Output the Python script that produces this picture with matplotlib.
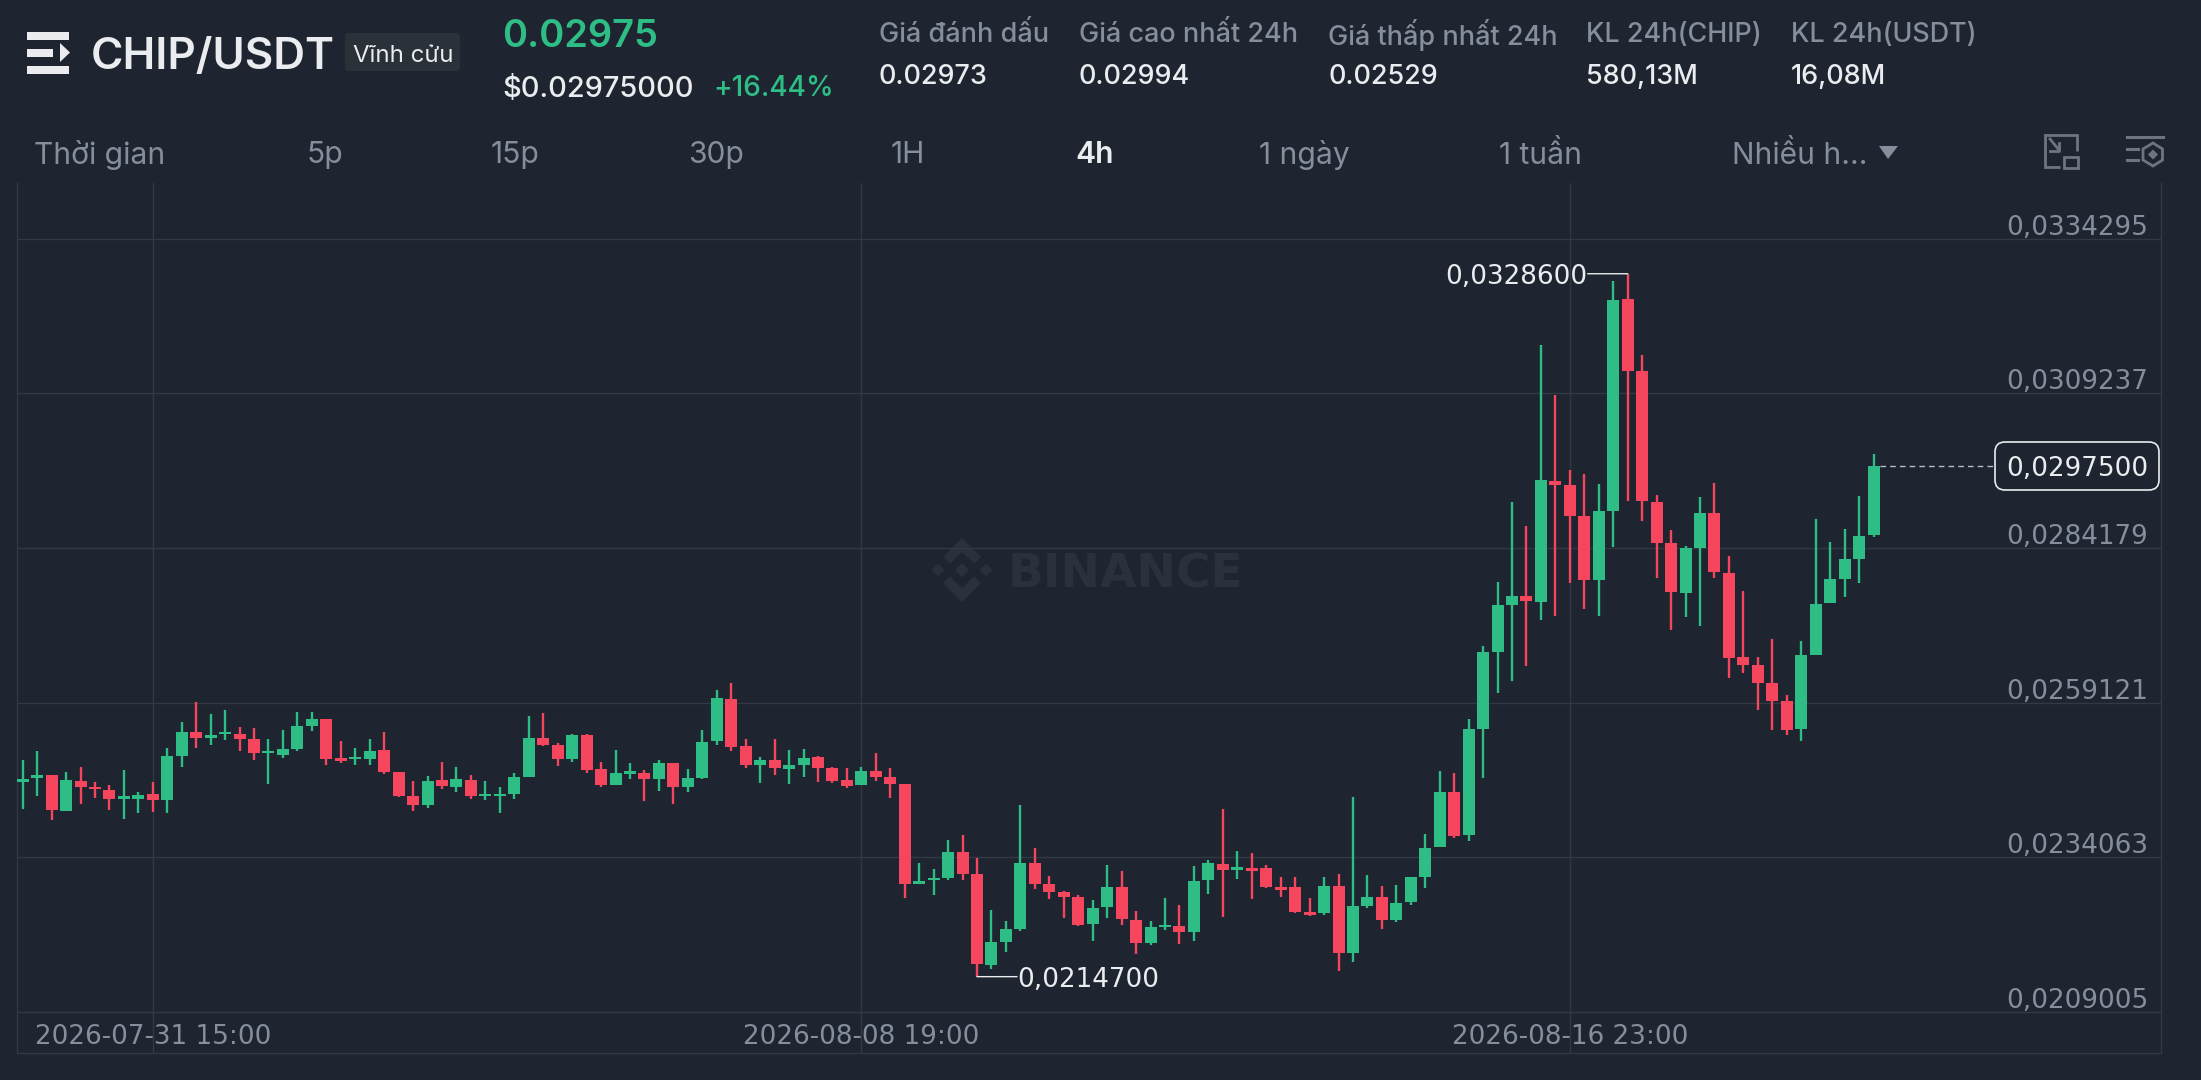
import matplotlib
matplotlib.use("Agg")
import matplotlib.pyplot as plt
import numpy as np
from matplotlib.patches import FancyBboxPatch, Polygon, Rectangle
from matplotlib.transforms import Affine2D

# ---- data: 4h candles, price in units of 1e-5 USDT
PRICE_UNIT = 1e-5
opens = [
    2462.7, 2469.2, 2473.5, 2416.3, 2464.9, 2454.1, 2449.8, 2435.8, 2435.8, 2443.9,
    2434.1, 2504.9, 2543.7, 2534.0, 2540.5, 2540.5, 2532.9, 2509.2, 2507.0, 2516.7,
    2554.0, 2564.8, 2501.1, 2499.5, 2500.0, 2514.0, 2478.4, 2440.1, 2426.0, 2466.0,
    2454.6, 2465.4, 2439.5, 2440.1, 2443.3, 2470.8, 2534.6, 2522.1, 2500.5, 2538.3,
    2483.8, 2458.4, 2475.7, 2476.8, 2467.6, 2494.1, 2454.1, 2469.8, 2528.6, 2597.7,
    2520.5, 2490.3, 2498.9, 2483.3, 2489.7, 2502.7, 2486.0, 2465.4, 2457.9, 2480.0,
    2470.3, 2460.0, 2298.1, 2303.5, 2307.8, 2349.4, 2313.7, 2166.3, 2203.0, 2224.1,
    2332.1, 2297.0, 2285.1, 2276.5, 2232.7, 2260.3, 2293.2, 2239.8, 2202.0, 2227.3,
    2229.0, 2219.2, 2304.0, 2330.5, 2320.7, 2322.9, 2322.9, 2292.1, 2292.1, 2251.6,
    2250.0, 2294.8, 2185.2, 2261.9, 2277.0, 2239.8, 2267.8, 2308.9, 2356.9, 2446.0,
    2377.4, 2549.1, 2673.9, 2748.9, 2763.5, 2754.9, 2950.9, 2943.3, 2894.2, 2790.0,
    2902.3, 3245.1, 3129.0, 2915.8, 2849.3, 2768.9, 2841.2, 2898.5, 2801.8, 2664.7,
    2652.3, 2623.1, 2593.4, 2548.1, 2669.0, 2752.2, 2791.0, 2824.0, 2862.3,
]
closes = [
    2468.1, 2474.6, 2417.4, 2466.0, 2454.1, 2450.9, 2435.8, 2440.1, 2442.2, 2434.1,
    2505.4, 2543.7, 2534.0, 2539.4, 2544.3, 2531.9, 2509.2, 2513.0, 2515.7, 2554.0,
    2565.3, 2500.0, 2496.2, 2503.2, 2513.0, 2478.9, 2439.5, 2426.0, 2464.9, 2455.7,
    2467.1, 2440.1, 2443.9, 2443.3, 2470.8, 2534.6, 2522.7, 2500.0, 2538.3, 2482.7,
    2458.4, 2476.8, 2480.6, 2468.1, 2493.5, 2454.6, 2468.7, 2527.0, 2598.8, 2519.4,
    2490.3, 2498.4, 2486.0, 2489.7, 2501.1, 2486.0, 2463.8, 2456.8, 2480.0, 2470.8,
    2459.5, 2298.1, 2301.8, 2307.2, 2349.4, 2313.2, 2167.4, 2203.0, 2224.6, 2331.0,
    2298.1, 2284.0, 2275.9, 2231.1, 2258.7, 2292.1, 2240.8, 2202.0, 2227.9, 2231.1,
    2219.2, 2302.9, 2331.0, 2320.2, 2324.5, 2319.1, 2292.7, 2288.3, 2252.2, 2247.3,
    2294.8, 2185.2, 2261.9, 2275.9, 2239.8, 2266.8, 2308.9, 2355.8, 2446.0, 2375.3,
    2548.1, 2672.8, 2748.9, 2764.6, 2755.9, 2951.4, 2944.4, 2894.2, 2790.0, 2901.7,
    3243.5, 3129.0, 2918.5, 2849.3, 2770.0, 2841.8, 2899.0, 2802.9, 2664.1, 2652.3,
    2622.6, 2594.5, 2547.5, 2667.9, 2751.1, 2791.0, 2823.4, 2861.2, 2975.0,
]
highs = [
    2498.4, 2512.4, 2473.5, 2478.9, 2486.5, 2462.2, 2458.4, 2482.2, 2446.6, 2462.7,
    2518.4, 2560.5, 2592.3, 2572.4, 2578.8, 2551.3, 2550.2, 2531.9, 2546.4, 2575.6,
    2575.6, 2564.8, 2529.2, 2517.3, 2532.9, 2543.7, 2479.5, 2463.8, 2471.9, 2494.6,
    2486.5, 2474.6, 2464.9, 2454.6, 2476.8, 2569.1, 2575.1, 2526.5, 2540.5, 2540.0,
    2494.6, 2514.0, 2493.0, 2482.2, 2497.8, 2494.1, 2483.8, 2546.4, 2611.8, 2623.1,
    2532.9, 2503.8, 2532.9, 2514.0, 2515.7, 2504.9, 2486.5, 2485.4, 2486.5, 2509.7,
    2484.9, 2460.0, 2331.0, 2321.8, 2368.8, 2376.4, 2339.6, 2255.4, 2237.6, 2426.0,
    2355.3, 2310.5, 2285.6, 2279.7, 2271.6, 2327.8, 2318.0, 2253.8, 2238.1, 2274.3,
    2264.1, 2326.7, 2336.4, 2418.5, 2350.4, 2347.2, 2328.8, 2308.3, 2308.3, 2274.9,
    2308.9, 2314.3, 2437.9, 2311.6, 2294.3, 2295.9, 2309.4, 2378.0, 2480.6, 2477.9,
    2564.3, 2683.6, 2786.7, 2915.8, 2877.4, 3170.1, 3089.1, 2967.6, 2961.1, 2945.5,
    3274.8, 3286.0, 3153.9, 2927.1, 2870.4, 2845.6, 2923.9, 2947.6, 2828.8, 2771.6,
    2665.8, 2693.8, 2603.7, 2691.7, 2888.2, 2851.5, 2872.0, 2926.0, 2993.5,
]
lows = [
    2418.5, 2440.1, 2401.2, 2416.3, 2427.1, 2436.8, 2417.4, 2402.8, 2413.1, 2414.2,
    2413.1, 2486.5, 2517.8, 2522.1, 2531.3, 2513.5, 2498.4, 2459.5, 2501.1, 2513.5,
    2545.9, 2489.7, 2494.1, 2489.7, 2490.3, 2476.2, 2437.9, 2416.3, 2421.2, 2450.9,
    2446.0, 2434.7, 2433.1, 2412.0, 2435.8, 2470.8, 2521.1, 2488.7, 2495.7, 2476.8,
    2454.6, 2458.4, 2468.1, 2432.5, 2447.6, 2427.1, 2447.1, 2467.1, 2523.2, 2513.0,
    2486.0, 2460.6, 2474.1, 2459.5, 2470.3, 2462.7, 2461.7, 2453.0, 2457.9, 2463.8,
    2437.4, 2274.9, 2297.5, 2280.3, 2304.0, 2304.0, 2147.4, 2159.8, 2187.9, 2221.9,
    2288.9, 2273.2, 2241.9, 2229.0, 2205.7, 2241.9, 2230.6, 2184.1, 2198.2, 2223.6,
    2200.3, 2205.2, 2281.3, 2244.1, 2305.1, 2273.2, 2291.6, 2275.9, 2250.0, 2245.2,
    2247.3, 2157.1, 2170.6, 2258.1, 2225.2, 2236.0, 2263.0, 2291.6, 2356.9, 2372.0,
    2367.7, 2468.7, 2607.5, 2625.8, 2651.2, 2725.2, 2732.2, 2785.1, 2743.5, 2731.1,
    2843.9, 2917.9, 2885.0, 2793.7, 2709.0, 2729.5, 2716.0, 2793.2, 2631.2, 2638.8,
    2579.4, 2547.0, 2538.3, 2528.6, 2669.0, 2752.2, 2761.9, 2785.6, 2859.1,
]
price_ticks = [0.0334295, 0.0309237, 0.0284179, 0.0259121, 0.0234063, 0.0209005]
price_labels = ["0,0334295", "0,0309237", "0,0284179", "0,0259121", "0,0234063", "0,0209005"]
date_ticks = [9, 58, 107]
date_labels = ["2026-07-31 15:00", "2026-08-08 19:00", "2026-08-16 23:00"]
high_label, low_label, last_label = "0,0328600", "0,0214700", "0,0297500"

stat_names = ["Giá đánh dấu", "Giá cao nhất 24h", "Giá thấp nhất 24h", "KL 24h(CHIP)", "KL 24h(USDT)"]
stat_values = ["0.02973", "0.02994", "0.02529", "580,13M", "16,08M"]
tabs = ["Thời gian", "5p", "15p", "30p", "1H", "4h", "1 ngày", "1 tuần", "Nhiều h..."]

# ---- colours
BG = "#1E2530"
GRID = "#323944"
GREEN = "#2EBD85"
RED = "#F6465D"
WHITE = "#EAECEF"
GREY = "#848E9C"
LABEL_PX = 26.2  # chart labels, DejaVu is closest to the wide original face

plt.rcParams["font.family"] = ["Inter", "DejaVu Sans"]
W, H = 2201, 1080
fig = plt.figure(figsize=(W / 100, H / 100), dpi=100, facecolor=BG)

# pixel-space layer below the chart, header and chrome go here
hdr = fig.add_axes([0, 0, 1, 1], zorder=0)
hdr.set_xlim(0, W)
hdr.set_ylim(H, 0)
hdr.axis("off")


def px_text(x, y, s, size, color=WHITE, weight="normal", ha="left", **kw):
    # size is given in pixels
    hdr.text(x, y, s, fontsize=size * 0.72, color=color, fontweight=weight, ha=ha, va="center_baseline", **kw)


# menu icon
hdr.add_patch(Rectangle((27, 32), 42, 7.5, color=WHITE, lw=0))
hdr.add_patch(Rectangle((27, 49), 26, 7.5, color=WHITE, lw=0))
hdr.add_patch(Rectangle((27, 66), 42, 7.5, color=WHITE, lw=0))
hdr.add_patch(Polygon([(60, 43), (70, 52.5), (60, 62)], color=WHITE, lw=0))
px_text(91, 53, "CHIP/USDT", 44, weight="semibold")
hdr.add_patch(FancyBboxPatch((349, 37), 107, 30, boxstyle="round,pad=4,rounding_size=4", fc="#2B3139", ec="none"))
px_text(353, 53, "Vĩnh cửu", 24)
px_text(502, 33, "0.02975", 38, color=GREEN, weight="semibold")
px_text(502, 86, "$0.02975000", 29, weight="medium")
px_text(713, 86, "+16.44%", 28, color=GREEN, weight="medium")

stat_x = [879, 1079, 1328, 1586, 1791]
for x, name, val in zip(stat_x, stat_names, stat_values):
    px_text(x, 32, name, 27, color=GREY, weight="medium")
    px_text(x, 74, val, 27, weight="medium")

tab_x = [34, 307, 491, 688, 891, 1075, 1259, 1499, 1732]
for x, t in zip(tab_x, tabs):
    if t == "4h":
        px_text(x, 152, t, 30, weight="semibold")
    else:
        px_text(x, 152, t, 30, color=GREY)
hdr.add_patch(Polygon([(1879, 146), (1898, 146), (1888, 159)], color=GREY, lw=0))

# toolbar icons
ICON = "#6E7582"
hdr.add_patch(Polygon([(2060, 167), (2045, 167), (2045, 135), (2077, 135), (2077, 151)], closed=False, fill=False, ec=ICON, lw=2))
hdr.add_patch(Rectangle((2064, 157), 13.5, 10.5, fill=False, ec=ICON, lw=2))
hdr.plot([2050, 2059], [139, 150], color=ICON, lw=2)
hdr.plot([2059, 2059, 2050], [143, 151, 151], color=ICON, lw=2)
hdr.plot([2127, 2163], [136.5, 136.5], color=ICON, lw=2.2)
hdr.plot([2127, 2138], [148.5, 148.5], color=ICON, lw=2.2)
hdr.plot([2127, 2138], [160, 160], color=ICON, lw=2.2)
hdr.add_patch(Polygon([(2153, 143), (2162.5, 149), (2162.5, 160), (2153, 166), (2143, 160), (2143, 149)], fill=False, ec=ICON, lw=2))
hdr.add_patch(Polygon([(2153, 149.5), (2158, 154.5), (2153, 159.5), (2148, 154.5)], color=ICON, lw=0))

# watermark
MARK = "#2A313C"
cx, cy = 962, 570
hdr.add_patch(Polygon([(cx, cy - 7), (cx + 7, cy), (cx, cy + 7), (cx - 7, cy)], color=MARK, lw=0))
for sx in [-1, 1]:
    ox = cx + sx * 24
    hdr.add_patch(Polygon([(ox, cy - 6.5), (ox + 6.5, cy), (ox, cy + 6.5), (ox - 6.5, cy)], color=MARK, lw=0))
for sy in [-1, 1]:
    pts = [(cx - 19, cy + sy * 13), (cx, cy + sy * 32), (cx + 19, cy + sy * 13), (cx + 12, cy + sy * 6.5), (cx, cy + sy * 18), (cx - 12, cy + sy * 6.5)]
    hdr.add_patch(Polygon(pts, color=MARK, lw=0))
px_text(1008, 570, "BINANCE", 47, color=MARK, weight="bold", family="DejaVu Sans")

# last price box
hdr.add_patch(FancyBboxPatch((2003, 450), 148, 32, boxstyle="round,pad=8,rounding_size=10", fc=BG, ec=WHITE, lw=1.2))

# ---- chart
AX_L, AX_R, AX_T, AX_B = 17.3, 2161.0, 183.0, 1052.6
ax = fig.add_axes([AX_L / W, 1 - AX_B / H, (AX_R - AX_L) / W, (AX_B - AX_T) / H], zorder=1)
ax.patch.set_alpha(0)
ax.set_xlim(-0.371, 147.88)
ax.set_ylim(0.020244, 0.034330)

o = np.array(opens) * PRICE_UNIT
c = np.array(closes) * PRICE_UNIT
hi = np.array(highs) * PRICE_UNIT
lo = np.array(lows) * PRICE_UNIT
idx = np.arange(len(o))
colors = np.where(c >= o, GREEN, RED)

ax.vlines(idx, lo, hi, colors=colors, linewidth=1.7, capstyle="butt", zorder=3)
ax.bar(idx, np.abs(c - o), bottom=np.minimum(o, c), width=0.83, color=colors, linewidth=0, zorder=4)

# ---- axes cosmetics
ax.grid(True, color=GRID, linewidth=1.0)
ax.set_axisbelow(True)
for side in ["left", "right", "bottom"]:
    ax.spines[side].set_color(GRID)
    ax.spines[side].set_linewidth(1.0)
ax.spines["top"].set_visible(False)

ax.set_yticks(price_ticks, price_labels)
ax.set_xticks(date_ticks, date_labels)
ax.yaxis.tick_right()
ax.tick_params(axis="both", length=0, pad=0, labelsize=LABEL_PX * 0.72, labelcolor=GREY)
for lab in ax.get_yticklabels() + ax.get_xticklabels():
    lab.set_family("DejaVu Sans")
for lab in ax.get_yticklabels():
    lab.set_ha("right")
    lab.set_va("center_baseline")
    lab.set_transform(lab.get_transform() + Affine2D().translate(-13, 14))
for lab in ax.get_xticklabels():
    lab.set_va("center_baseline")
    lab.set_transform(lab.get_transform() + Affine2D().translate(0, 19))

# ---- high / low / last price markers
i_hi, i_lo = int(np.argmax(hi)), int(np.argmin(lo))
text_kw = dict(va="center_baseline", fontsize=LABEL_PX * 0.72, color=WHITE, zorder=5, family="DejaVu Sans")
line_kw = dict(arrowprops=dict(arrowstyle="-", color=WHITE, lw=1, shrinkA=0, shrinkB=0), zorder=5)
for i, price, label, off, align in [(i_hi, hi[i_hi], high_label, -40, "right"), (i_lo, lo[i_lo], low_label, 40, "left")]:
    # leader drawn with an empty text so it stays level
    ax.annotate("", xy=(i, price), xytext=(off, 0), textcoords="offset pixels", **line_kw)
    ax.annotate(label, xy=(i, price), xytext=(off, 0), textcoords="offset pixels", ha=align, **text_kw)
last = c[-1]
ax.plot([idx[-1] + 0.42, (1995 - 22.67) / 14.46], [last, last], color="#B7BDC6", lw=1, ls=(0, (4, 3)), zorder=2)
ax.annotate(last_label, xy=(1, last), xycoords=ax.get_yaxis_transform(), xytext=(-13, 0), textcoords="offset pixels",
            ha="right", **text_kw)

fig.savefig("out.png", dpi=100, facecolor=BG)
